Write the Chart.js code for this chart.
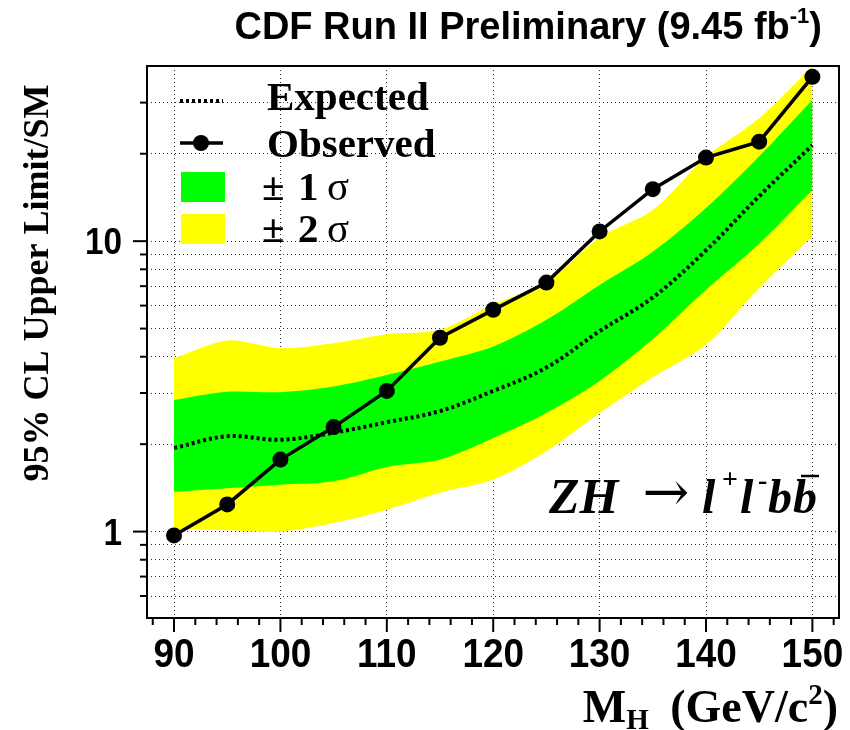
<!DOCTYPE html>
<html>
<head>
<meta charset="utf-8">
<script src="https://cdn.jsdelivr.net/npm/chart.js@4.4.1/dist/chart.umd.min.js"></script>
<style>
  body { margin: 0; background: #fff; }
</style>
</head>
<body>
<canvas id="chart" width="850" height="730"></canvas>
<script>
// Higgs mass points (GeV/c^2) and limits / SM
const masses   = [90, 95, 100, 105, 110, 115, 120, 125, 130, 135, 140, 145, 150];
const observed = [0.97, 1.24, 1.77, 2.29, 3.05, 4.65, 5.8, 7.2, 10.8, 15.1, 19.4, 22.0, 36.8];
const expected = [1.94, 2.13, 2.07, 2.19, 2.38, 2.6, 3.05, 3.67, 4.9, 6.4, 9.3, 14.3, 21.4];
const plus2    = [3.95, 4.55, 4.28, 4.45, 4.78, 4.95, 6.05, 7.2, 10.3, 12.8, 19.5, 26.5, 40.0];
const plus1    = [2.84, 3.03, 3.02, 3.16, 3.46, 3.85, 4.34, 5.36, 7.07, 9.2, 13.0, 19.6, 30.7];
const minus1   = [1.37, 1.41, 1.45, 1.49, 1.67, 1.77, 2.10, 2.56, 3.3, 4.6, 6.8, 9.8, 15.0];
const minus2   = [1.02, 1.01, 1.0, 1.07, 1.19, 1.36, 1.51, 1.89, 2.56, 3.4, 4.4, 6.9, 10.4];

const xTickLabels = [90, 100, 110, 120, 130, 140, 150];
const yTickLabels = [1, 10];
const yTicks = [0.6, 0.7, 0.8, 0.9, 1, 2, 3, 4, 5, 6, 7, 8, 9, 10, 20, 30];
const xTicks = [];
for (let m = 88; m <= 152; m += 2) xTicks.push(m);

const pts = arr => masses.map((m, i) => ({ x: m, y: arr[i] }));

const band = (vals, color, fill, order) => ({
  data: pts(vals),
  borderWidth: 0,
  pointRadius: 0,
  backgroundColor: color,
  fill: fill,
  tension: 0.3,
  order: order
});

const serif = '"Liberation Serif", "Times New Roman", serif';
const sans = '"Liberation Sans", Arial, sans-serif';

const decor = {
  id: 'decor',
  afterDraw(chart) {
    const ctx = chart.ctx;
    const a = chart.chartArea;
    const xs = chart.scales.x, ys = chart.scales.y;
    ctx.save();
    ctx.fillStyle = '#000';
    ctx.strokeStyle = '#000';

    // frame
    ctx.lineWidth = 2;
    ctx.strokeRect(a.left, a.top, a.right - a.left, a.bottom - a.top);

    // x tick marks
    xTicks.forEach(v => {
      const px = xs.getPixelForValue(v);
      const len = v % 10 === 0 ? 14 : 7;
      ctx.beginPath(); ctx.moveTo(px, a.bottom); ctx.lineTo(px, a.bottom + len); ctx.stroke();
    });
    // y tick marks
    yTicks.forEach(v => {
      const py = ys.getPixelForValue(v);
      const len = yTickLabels.includes(v) ? 14 : 7;
      ctx.beginPath(); ctx.moveTo(a.left, py); ctx.lineTo(a.left - len, py); ctx.stroke();
    });

    // tick labels (slightly condensed, like the original)
    ctx.textBaseline = 'alphabetic';
    ctx.textAlign = 'center';
    ctx.font = 'bold 41px ' + sans;
    xTickLabels.forEach(v => {
      ctx.save();
      ctx.translate(xs.getPixelForValue(v), 667);
      ctx.scale(0.9, 1);
      ctx.fillText(String(v), 0, 0);
      ctx.restore();
    });
    ctx.font = 'bold 37px ' + sans;
    ctx.textAlign = 'right';
    yTickLabels.forEach(v => {
      ctx.save();
      ctx.translate(122, ys.getPixelForValue(v) + 13);
      ctx.scale(0.9, 1);
      ctx.fillText(String(v), 0, 0);
      ctx.restore();
    });

    // title
    ctx.textAlign = 'left';
    const t1 = 'CDF Run II Preliminary (9.45 fb';
    ctx.font = 'bold 38px ' + sans;
    const w1 = ctx.measureText(t1).width;
    const w3 = ctx.measureText(')').width;
    ctx.font = 'bold 22px ' + sans;
    const w2 = ctx.measureText('-1').width;
    let tx = 822 - (w1 + w2 + w3);
    ctx.font = 'bold 38px ' + sans;
    ctx.fillText(t1, tx, 39);
    ctx.font = 'bold 22px ' + sans;
    ctx.fillText('-1', tx + w1, 23);
    ctx.font = 'bold 38px ' + sans;
    ctx.fillText(')', tx + w1 + w2, 39);

    // y axis title
    ctx.save();
    ctx.translate(48, 283);
    ctx.rotate(-Math.PI / 2);
    ctx.font = 'bold 36px ' + serif;
    ctx.textAlign = 'center';
    ctx.fillText('95% CL Upper Limit/SM', 0, 0);
    ctx.restore();

    // x axis title
    const big = 'bold 46px ' + serif, small = 'bold 29px ' + serif;
    ctx.font = big;
    const pM = 'M', pA = ' (GeV/c', pC = ')';
    const wM = ctx.measureText(pM).width, wA = ctx.measureText(pA).width, wC = ctx.measureText(pC).width;
    ctx.font = small;
    const wH = ctx.measureText('H').width, w2s = ctx.measureText('2').width;
    const gap = 10;
    let x0 = 838 - (wM + wH + gap + wA + w2s + wC);
    const by = 722;
    ctx.font = big;
    ctx.fillText(pM, x0, by); x0 += wM;
    ctx.font = small;
    ctx.fillText('H', x0, by + 7); x0 += wH + gap;
    ctx.font = big;
    ctx.fillText(pA, x0, by); x0 += wA;
    ctx.font = small;
    ctx.fillText('2', x0, by - 18); x0 += w2s;
    ctx.font = big;
    ctx.fillText(pC, x0, by);

    // legend
    ctx.font = 'bold 41px ' + serif;
    ctx.lineWidth = 4;
    ctx.setLineDash([3, 3]);
    ctx.beginPath(); ctx.moveTo(180, 101); ctx.lineTo(223, 101); ctx.stroke();
    ctx.setLineDash([]);
    ctx.fillText('Expected', 267, 110);
    ctx.lineWidth = 3.5;
    ctx.beginPath(); ctx.moveTo(180, 143); ctx.lineTo(223, 143); ctx.stroke();
    ctx.beginPath(); ctx.arc(201, 143, 8, 0, Math.PI * 2); ctx.fill();
    ctx.fillText('Observed', 267, 157);
    ctx.fillStyle = '#00ff00';
    ctx.fillRect(181, 172, 44, 30);
    ctx.fillStyle = '#ffff00';
    ctx.fillRect(181, 214, 44, 30);
    ctx.fillStyle = '#000';
    [['1', 200], ['2', 242]].forEach(([n, y]) => {
      ctx.font = 'bold 41px ' + serif;
      ctx.fillText('\u00b1', 262, y);
      ctx.fillText(n, 298, y);
      ctx.font = '41px ' + serif;
      ctx.fillText('\u03c3', 327, y);
    });

    // process label
    const ly = 513;
    ctx.font = 'italic bold 50px ' + serif;
    ctx.fillText('ZH', 549, ly);
    ctx.font = '56px "DejaVu Serif", serif';
    ctx.textAlign = 'center';
    ctx.fillText('\u2192', 666, ly - 2);
    ctx.textAlign = 'left';
    ctx.font = 'italic bold 48px ' + serif;
    ctx.fillText('l', 702, ly);
    ctx.font = 'bold 28px ' + serif;
    ctx.fillText('+', 722, ly - 25);
    ctx.font = 'italic bold 48px ' + serif;
    ctx.fillText('l', 740, ly);
    ctx.font = 'bold 28px ' + serif;
    ctx.fillText('-', 758, ly - 24);
    ctx.font = 'italic bold 48px ' + serif;
    ctx.fillText('b', 768, ly);
    ctx.fillText('b', 793, ly);
    ctx.lineWidth = 2.5;
    ctx.beginPath(); ctx.moveTo(801, 476); ctx.lineTo(819, 476); ctx.stroke();

    ctx.restore();
  }
};

new Chart(document.getElementById('chart'), {
  type: 'line',
  data: {
    datasets: [
      band(plus2, '#ffff00', '+1', 6),
      band(minus2, '#ffff00', false, 5),
      band(plus1, '#00ff00', '+1', 4),
      band(minus1, '#00ff00', false, 3),
      {
        data: pts(expected),
        borderColor: '#000',
        borderWidth: 4,
        borderDash: [3, 3],
        pointRadius: 0,
        fill: false,
        tension: 0.35,
        order: 2
      },
      {
        data: pts(observed),
        borderColor: '#000',
        borderWidth: 3.5,
        pointRadius: 8,
        pointBackgroundColor: '#000',
        pointBorderWidth: 0,
        fill: false,
        tension: 0,
        order: 1
      }
    ]
  },
  options: {
    responsive: false,
    animation: false,
    layout: { padding: { left: 0, top: 66, right: 11, bottom: 0 } },
    plugins: { legend: { display: false }, tooltip: { enabled: false } },
    scales: {
      x: {
        type: 'linear',
        min: 87.46,
        max: 152.5,
        z: 1,
        afterBuildTicks: s => { s.ticks = xTicks.map(v => ({ value: v })); },
        afterFit: s => { s.height = 112; },
        ticks: { display: false },
        border: { display: false, dash: [1, 3] },
        grid: {
          drawTicks: false,
          lineWidth: 1,
          color: c => (c.tick && c.tick.value % 10 === 0 && c.tick.value >= 90 && c.tick.value <= 150) ? '#333' : 'rgba(0,0,0,0)'
        }
      },
      y: {
        type: 'logarithmic',
        min: 0.504,
        max: 40.1,
        z: 1,
        afterBuildTicks: s => { s.ticks = yTicks.map(v => ({ value: v })); },
        afterFit: s => { s.width = 147; },
        ticks: { display: false },
        border: { display: false, dash: [1, 3] },
        grid: { drawTicks: false, lineWidth: 1, color: '#333' }
      }
    }
  },
  plugins: [decor]
});
</script>
</body>
</html>
